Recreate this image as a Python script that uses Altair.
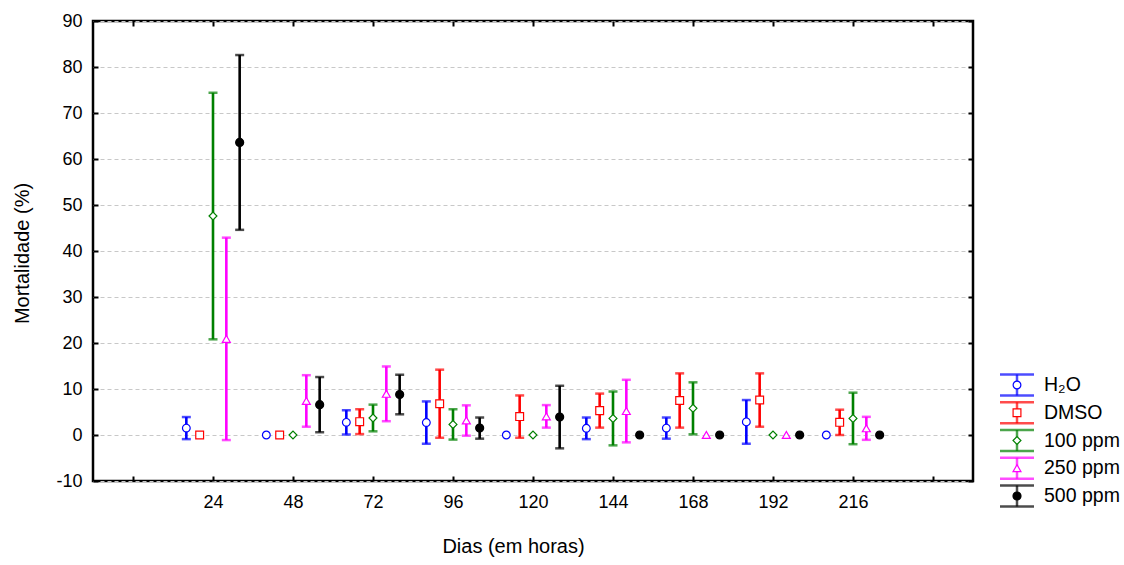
import altair as alt
import pandas as pd

# Sampling times (hours) and treatment groups
hours = [24, 48, 72, 96, 120, 144, 168, 192, 216]
series = ["H₂O", "DMSO", "100 ppm", "250 ppm", "500 ppm"]

# Mean mortality (%) per group and time, with the half-width of its error bar
mean_h2o = [1.5, 0.0, 2.75, 2.7, 0.0, 1.45, 1.5, 2.85, 0.0]
err_h2o = [2.4, 0.0, 2.65, 4.6, 0.0, 2.35, 2.3, 4.75, 0.0]

mean_dmso = [0.0, 0.0, 2.9, 6.8, 4.0, 5.3, 7.5, 7.6, 2.75]
err_dmso = [0.0, 0.0, 2.7, 7.4, 4.6, 3.7, 5.9, 5.8, 2.75]

mean_100 = [47.6, 0.0, 3.7, 2.3, 0.0, 3.6, 5.8, 0.0, 3.6]
err_100 = [26.8, 0.0, 2.9, 3.3, 0.0, 5.85, 5.65, 0.0, 5.6]

mean_250 = [20.9, 7.4, 8.95, 3.15, 4.05, 5.2, 0.0, 0.0, 1.45]
err_250 = [22.0, 5.6, 5.95, 3.3, 2.45, 6.8, 0.0, 0.0, 2.5]

mean_500 = [63.6, 6.6, 8.8, 1.5, 3.9, 0.0, 0.0, 0.0, 0.0]
err_500 = [19.0, 6.0, 4.3, 2.3, 6.8, 0.0, 0.0, 0.0, 0.0]

means = [mean_h2o, mean_dmso, mean_100, mean_250, mean_500]
errs = [err_h2o, err_dmso, err_100, err_250, err_500]

# Styling per group
colors = ["#0000ff", "#ff0000", "#008000", "#ff00ff", "#000000"]
fills = ["#ffffff", "#ffffff", "#ffffff", "#ffffff", "#000000"]
shapes = ["circle", "square", "diamond", "triangle-up", "circle"]
sizes = [60, 64, 90, 80, 80]
dodge = [-8, -4, 0, 4, 8]  # side-by-side shift of each group, in hours

rows = []
for s, m_list, e_list, d in zip(series, means, errs, dodge):
    for h, m, e in zip(hours, m_list, e_list):
        rows.append({"series": s, "hour": h, "pos": h + d, "mean": m,
                     "err": e, "lo": m - e, "hi": m + e})
df = pd.DataFrame(rows)

FONT = "Liberation Sans"
xs = alt.Scale(domain=[-12, 252], nice=False, zero=False)
ys = alt.Scale(domain=[-10, 90], nice=False, zero=False)
x_ticks = list(range(0, 241, 24))
y_ticks = list(range(-10, 91, 10))

color_enc = alt.Color("series:N", scale=alt.Scale(domain=series, range=colors), legend=None)
stroke_enc = alt.Stroke("series:N", scale=alt.Scale(domain=series, range=colors), legend=None)
fill_enc = alt.Fill("series:N", scale=alt.Scale(domain=series, range=fills), legend=None)
shape_enc = alt.Shape("series:N", scale=alt.Scale(domain=series, range=shapes), legend=None)
size_enc = alt.Size("series:N", scale=alt.Scale(domain=series, range=sizes), legend=None)

bottom_axis = alt.Axis(
    orient="bottom", values=x_ticks, offset=-5, domain=False, grid=False,
    tickSize=5, tickWidth=2, tickColor="black",
    labelExpr="datum.value == 0 || datum.value == 240 ? '' : datum.label",
    labelPadding=12, labelFontSize=18, title="Dias (em horas)",
    titleX=420, titleY=70, titleAnchor="start", titleAlign="center", titleBaseline="middle",
)
left_axis = alt.Axis(
    orient="left", values=y_ticks, offset=-5, domain=False,
    grid=True, gridColor="#c8c8c8", gridDash=[4, 3], gridWidth=1,
    tickSize=5, tickWidth=2, tickColor="black",
    labelExpr="datum.value < 0 ? '-' + abs(datum.value) : datum.label",
    labelPadding=11, labelFontSize=18, title="Mortalidade (%)",
    titleX=-76, titleY=232, titleAngle=270, titleAlign="center", titleBaseline="middle",
)
top_axis = alt.Axis(orient="top", values=x_ticks, offset=-5, domain=False, grid=False,
                    labels=False, title=None, tickSize=5, tickWidth=2, tickColor="black")
right_axis = alt.Axis(orient="right", values=y_ticks, offset=-5, domain=False, grid=False,
                      labels=False, title=None, tickSize=5, tickWidth=2, tickColor="black")

base = alt.Chart(df)
with_err = base.transform_filter("datum.err > 0")

bars = with_err.mark_rule(strokeWidth=2.6).encode(
    x=alt.X("pos:Q", scale=xs, axis=bottom_axis),
    y=alt.Y("lo:Q", scale=ys, axis=left_axis),
    y2="hi:Q",
    color=color_enc,
)
caps_hi = with_err.mark_tick(orient="horizontal", size=9, thickness=2.5).encode(
    x=alt.X("pos:Q", scale=xs, axis=None),
    y=alt.Y("hi:Q", scale=ys, axis=None),
    color=color_enc,
)
caps_lo = with_err.mark_tick(orient="horizontal", size=9, thickness=2.5).encode(
    x=alt.X("pos:Q", scale=xs, axis=None),
    y=alt.Y("lo:Q", scale=ys, axis=None),
    color=color_enc,
)
points = base.mark_point(filled=True, strokeWidth=1.2, opacity=1).encode(
    x=alt.X("pos:Q", scale=xs, axis=None),
    y=alt.Y("mean:Q", scale=ys, axis=None),
    shape=shape_enc, fill=fill_enc, stroke=stroke_enc, size=size_enc,
)
# invisible layer carrying the mirrored top and right tick axes
mirror = base.mark_point(opacity=0).encode(
    x=alt.X("pos:Q", scale=xs, axis=top_axis),
    y=alt.Y("mean:Q", scale=ys, axis=right_axis),
)

main = alt.layer(bars, caps_hi, caps_lo, points, mirror).resolve_axis(
    x="independent", y="independent"
)

# Legend drawn as error-bar glyphs next to the plot
leg_df = pd.DataFrame({"series": series})
ly = alt.Y("series:N", scale=alt.Scale(type="point", domain=series, range=[364, 475], padding=0),
           axis=None)
leg = alt.Chart(leg_df)
leg_top = leg.mark_tick(orient="horizontal", size=34, thickness=2.5, yOffset=-10.5).encode(
    x=alt.value(924), y=ly, color=color_enc)
leg_bot = leg.mark_tick(orient="horizontal", size=34, thickness=2.5, yOffset=10.5).encode(
    x=alt.value(924), y=ly, color=color_enc)
leg_bar = leg.mark_tick(orient="vertical", size=21, thickness=2.5).encode(
    x=alt.value(924), y=ly, color=color_enc)
leg_pt = leg.mark_point(filled=True, strokeWidth=1.2, opacity=1).encode(
    x=alt.value(924), y=ly, shape=shape_enc, fill=fill_enc, stroke=stroke_enc, size=size_enc)
leg_txt = leg.mark_text(align="left", baseline="middle", fontSize=19.5, font=FONT, color="black").encode(
    x=alt.value(951), y=ly, text="series:N")
legend = alt.layer(leg_top, leg_bot, leg_bar, leg_pt, leg_txt)

chart = alt.layer(main, legend).resolve_scale(y="independent").properties(
    width=880, height=460,
    autosize=alt.AutoSizeParams(type="none"),
    padding={"left": 93, "top": 21, "right": 151, "bottom": 84},
    background="white",
).configure_view(
    stroke="black", strokeWidth=2.5
).configure_axis(
    labelFont=FONT, titleFont=FONT, labelColor="black", titleColor="black",
    titleFontSize=20, titleFontWeight="normal",
)

chart.save("out.html", embed_options={"renderer": "svg", "actions": False})
